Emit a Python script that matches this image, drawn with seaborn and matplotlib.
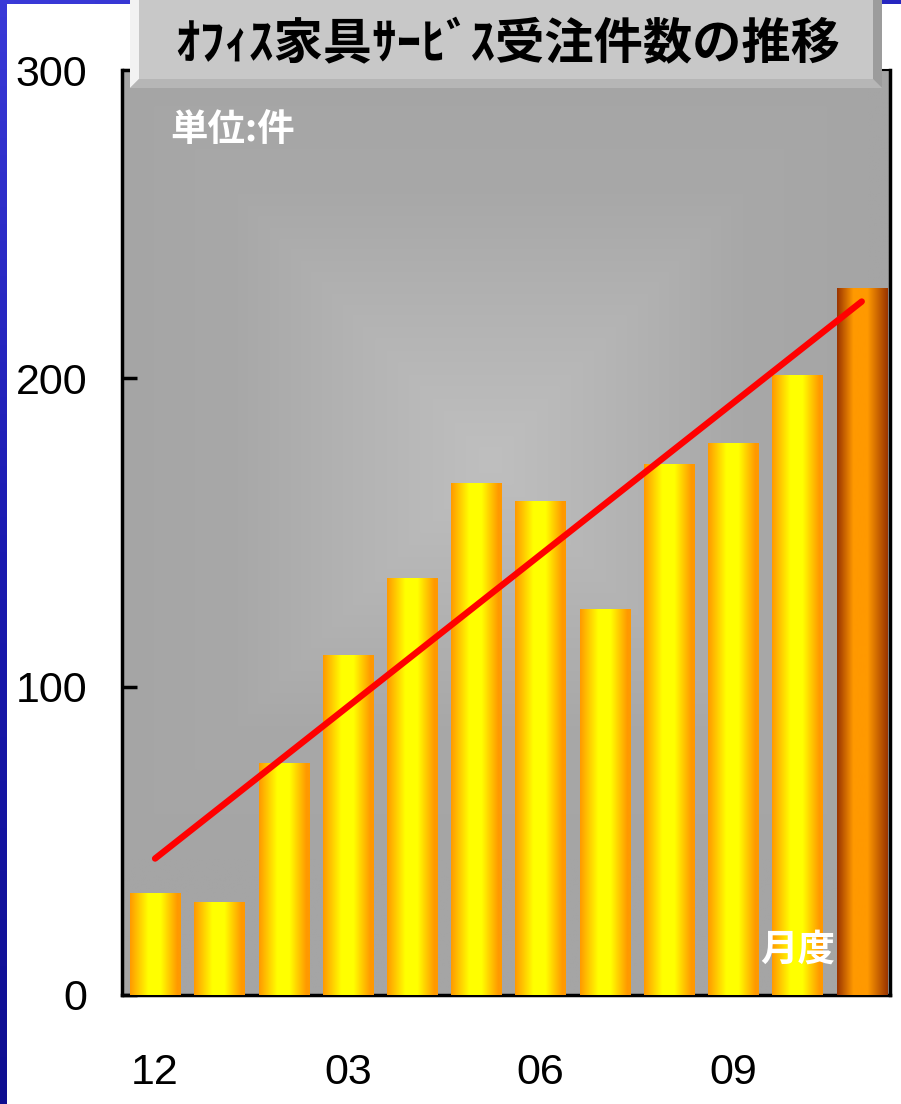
import numpy as np
import pandas as pd
import matplotlib
matplotlib.use("Agg")
import matplotlib.pyplot as plt
import seaborn as sns
from matplotlib.patches import Polygon, Rectangle
from matplotlib.colors import LinearSegmentedColormap

# ---- data ----
months = ["12", "01", "02", "03", "04", "05", "06", "07", "08", "09", "10", "11"]
orders = [33, 30, 75, 110, 135, 166, 160, 125, 172, 179, 201, 229]
shown_ticks = ["12", "03", "06", "09"]
y_ticks = [0, 100, 200, 300]
title_text = "ｵﾌｨｽ家具ｻｰﾋﾞｽ受注件数の推移"
unit_text = "単位:件"
period_text = "月度"

sns.set_theme(style="white")
plt.rcParams['font.family'] = ['Liberation Sans', 'DejaVu Sans']
CJK = ['Noto Sans CJK JP', 'DejaVu Sans']

W, H = 901, 1104
fig = plt.figure(figsize=(W / 100, H / 100), dpi=100)
fig.patch.set_facecolor("white")


def fx(x):
    return x / W


def fy(y):
    return 1 - y / H


# ---- blue frame strips ----
bg = fig.add_axes([0, 0, 1, 1], zorder=-5)
bg.set_xlim(0, W)
bg.set_ylim(H, 0)
bg.axis("off")
blue_cmap = LinearSegmentedColormap.from_list("blue", ["#3a3ad8", "#1a1ab0", "#0e0e90"])
grad_v = np.linspace(0, 1, 256).reshape(-1, 1)
bg.imshow(grad_v, cmap=blue_cmap, extent=(0, 7, H, 0), aspect="auto")
bg.imshow(np.linspace(0, 0.3, 256).reshape(1, -1), cmap=blue_cmap, vmin=0, vmax=1,
          extent=(0, W, 4, 0), aspect="auto")

# ---- main axes ----
ax_left, ax_right, ax_top, ax_bottom = 122, 890, 70, 995
ax = fig.add_axes([fx(ax_left), fy(ax_bottom), (ax_right - ax_left) / W, (ax_bottom - ax_top) / H])
df = pd.DataFrame({"month": months, "orders": orders})
sns.barplot(data=df, x="month", y="orders", ax=ax, width=0.78, color="orange",
            saturation=1, zorder=2)
xl = (-0.515, 11.44)
ax.set_xlim(*xl)
ax.set_ylim(0, 300)

# background rectangular gradient
nx, ny = 400, 480
px = np.linspace(ax_left, ax_right, nx)
py = np.linspace(ax_top, ax_bottom, ny)
PX, PY = np.meshgrid(px, py)
cx, cy = 490, 460
d = np.maximum(np.abs(PX - cx) / 380.0, np.abs(PY - cy) / 400.0)
d = np.clip(d, 0, 1)
gray_cmap = LinearSegmentedColormap.from_list("gray", ["#bfbfbf", "#b4b4b4", "#a8a8a8", "#a5a5a5"])
ax.imshow(d, cmap=gray_cmap, extent=(xl[0], xl[1], 0, 300), origin="upper",
          aspect="auto", zorder=0, vmin=0, vmax=1)

# gradient bars
bar_cmap = LinearSegmentedColormap.from_list(
    "bar", [(0, "#ff9900"), (0.36, "#ffff00"), (0.6, "#ffff00"), (0.93, "#ff9900"), (1, "#ff9900")])
last_cmap = LinearSegmentedColormap.from_list(
    "last", [(0, "#993300"), (0.32, "#ff9900"), (0.6, "#ff9900"), (1, "#993300")])
grad_h = np.linspace(0, 1, 256).reshape(1, -1)
patches = list(ax.patches)
for i, p in enumerate(patches):
    x0, w, h = p.get_x(), p.get_width(), p.get_height()
    cmap = last_cmap if i == len(patches) - 1 else bar_cmap
    ax.imshow(grad_h, cmap=cmap, extent=(x0, x0 + w, 0, h), aspect="auto", zorder=3)
    p.set_visible(False)

# trend line
xi = np.arange(len(orders))
slope, icpt = np.polyfit(xi, orders, 1)
ax.plot(xi, slope * xi + icpt, color="#ff0000", lw=4.6, solid_capstyle="round", zorder=5)
ax.set_xlim(*xl)
ax.set_ylim(0, 300)

# ticks
ax.set_yticks(y_ticks)
ax.set_yticklabels([str(v) for v in y_ticks])
ax.set_xticks([months.index(m) for m in shown_ticks])
ax.set_xticklabels(shown_ticks)
ax.tick_params(axis="y", direction="in", length=11, width=2.5, color="black",
               labelsize=31, pad=25, left=True)
ax.tick_params(axis="x", length=0, labelsize=31, pad=42)
for lab in ax.get_xticklabels() + ax.get_yticklabels():
    lab.set_color("black")
ax.set_xlabel("")
ax.set_ylabel("")
for s in ax.spines.values():
    s.set_color("black")
    s.set_linewidth(2.5)
    s.set_visible(True)
ax.spines["top"].set_linewidth(1.5)

ax.text((170 - ax_left) / (ax_right - ax_left), (ax_bottom - 130) / (ax_bottom - ax_top),
        unit_text, transform=ax.transAxes, ha="left", va="center", color="white",
        fontsize=27, fontweight="bold", family=CJK, zorder=6)
ax.text((798 - ax_left) / (ax_right - ax_left), (ax_bottom - 949) / (ax_bottom - ax_top),
        period_text, transform=ax.transAxes, ha="center", va="center", color="white",
        fontsize=27, fontweight="bold", family=CJK, zorder=6)

# ---- title box ----
tb = fig.add_axes([0, 0, 1, 1], zorder=10)
tb.set_xlim(0, W)
tb.set_ylim(H, 0)
tb.axis("off")
L, R, T, B = 130, 882, 0, 88
bev = 9
tb.add_patch(Rectangle((L, T), R - L, B - T, facecolor="#c8c8c8", edgecolor="none"))
# left light bevel
tb.add_patch(Polygon([(L, T), (L + bev, T), (L + bev, B - bev), (L, B)], closed=True,
                     facecolor="#f2f2f2", edgecolor="none"))
# bottom bevel
tb.add_patch(Polygon([(L, B), (L + bev, B - bev), (R - bev, B - bev), (R, B)], closed=True,
                     facecolor="#b6b6b6", edgecolor="none"))
# right dark bevel
tb.add_patch(Polygon([(R - bev, T), (R, T), (R, B), (R - bev, B - bev)], closed=True,
                     facecolor="#9c9c9c", edgecolor="none"))
face_cmap = LinearSegmentedColormap.from_list("face", ["#ececec", "#dadada", "#d0d0d0"])
tb.imshow(grad_v, cmap=face_cmap, extent=(L + bev, R - bev, B - bev, T), aspect="auto")
tb.set_xlim(0, W)
tb.set_ylim(H, 0)
tb.text((L + R) / 2 + 2, 45, title_text, ha="center", va="center", color="black",
        fontsize=35.5, fontweight="bold", family=CJK)

fig.savefig("out.png", dpi=100, facecolor="white")
